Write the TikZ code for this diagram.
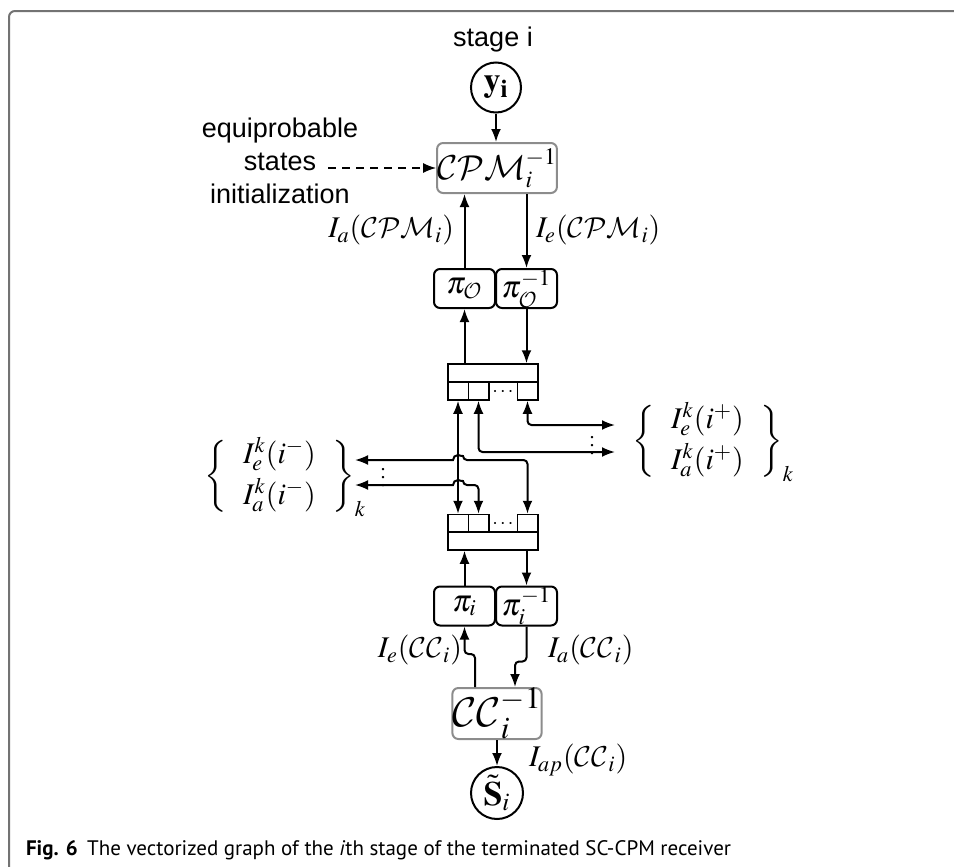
\documentclass[tikz,border=0pt]{standalone}
\usepackage{mathptmx}
\DeclareMathAlphabet{\mathcal}{OMS}{cmsy}{m}{n}
\usepackage{fontspec}
\setmainfont{Liberation Serif}
\newfontfamily\lsans{Liberation Sans}
\newfontfamily\capfont{PT Sans}
\usetikzlibrary{arrows.meta,calc}
\begin{document}
\begin{tikzpicture}[x=0.5pt,y=-0.5pt,line width=1pt,
  arr/.style={-{Latex[length=6.5pt,width=5pt]}},
  darr/.style={{Latex[length=6.5pt,width=5pt]}-{Latex[length=6.5pt,width=5pt]}},
  rc/.style={rounded corners=2pt},
  pibox/.style={draw,rounded corners=3pt,minimum width=30.5pt,minimum height=19.5pt,inner sep=0pt,font=\fontsize{15.5}{18}\selectfont},
  graybox/.style={draw=black!45,rounded corners=3pt,inner sep=0pt},
  cell/.style={draw,line width=0.75pt,minimum width=10.25pt,minimum height=9pt,inner sep=0pt},
  bar/.style={draw,line width=0.75pt,minimum width=45pt,minimum height=9pt,inner sep=0pt},
  circ/.style={draw,circle,inner sep=0pt,font=\fontsize{17}{20}\selectfont},
  lbl/.style={inner sep=0pt,font=\fontsize{15}{18}\selectfont},
  stxt/.style={inner sep=0pt,font=\lsans\fontsize{13.5}{16.5}\selectfont},
  dotsty/.style={inner sep=0pt,font=\fontsize{10}{12}\selectfont}
]
\useasboundingbox (0,0) rectangle (954,867);
% frame
\draw[black!55,line width=1pt,rounded corners=3pt] (9,867) -- (9,11) -- (954,11);

% texts
\node[stxt] (stage) at (493,40) {stage i};
\node[stxt,align=center] (init) at (280,161) {equiprobable\\states\\initialization};
\coordinate (dst) at (328,168);

% nodes
\node[circ,minimum size=25pt] (y) at (496,87.5) {$\mathbf{y}_{\mathbf{i}}$};
\node[graybox,minimum width=55pt,minimum height=25pt,font=\fontsize{16}{19}\selectfont] (cpm) at (497,168) {$\mathcal{CPM}_i^{-1}$};
\node[pibox] (pio) at (464.5,288.5) {$\pi_{\mathcal{O}}$};
\node[pibox] (pioi) at (526.5,288.5) {$\pi_{\mathcal{O}}^{-1}$};

% upper mux
\node[bar] (ubar) at (493,373) {};
\node[cell] (u1) at (458,391) {};
\node[cell] (u2) at (478.5,391) {};
\node[cell] (u4) at (527.5,391) {};
\node[dotsty] (udots) at (503,392) {$\cdots$};

% lower mux
\node[cell] (l1) at (458,523.5) {};
\node[cell] (l2) at (478.5,523.5) {};
\node[cell] (l4) at (527.5,523.5) {};
\node[bar] (lbar) at (493,541) {};
\node[dotsty] (ldots) at (503,524.5) {$\cdots$};

\node[pibox] (pii) at (464.5,606) {$\pi_i$};
\node[pibox] (piii) at (526.5,606) {$\pi_i^{-1}$};
\node[graybox,minimum width=40pt,minimum height=25.5pt,font=\fontsize{21}{25}\selectfont] (cc) at (497,713.5) {$\mathcal{CC}_i^{-1}$};
\node[circ,minimum size=26pt] (s) at (497,793) {$\tilde{\mathbf{S}}_i$};

% labels
\node[lbl,anchor=east] (la) at (455,230) {$I_a(\mathcal{CPM}_i)$};
\node[lbl,anchor=west] (le) at (535,230) {$I_e(\mathcal{CPM}_i)$};
\node[lbl,anchor=east] (lecc) at (463,650) {$I_e(\mathcal{CC}_i)$};
\node[lbl,anchor=west] (lacc) at (547,650) {$I_a(\mathcal{CC}_i)$};
\node[lbl,anchor=west] (lap) at (528,760) {$I_{ap}(\mathcal{CC}_i)$};
\node[lbl,anchor=west] (lg) at (203,477) {$\left\{\;\begin{array}{c} I_e^k(i^-)\\[2pt] I_a^k(i^-)\end{array}\;\right\}_k$};
\node[lbl,anchor=west] (rg) at (631,442) {$\left\{\;\begin{array}{c} I_e^k(i^+)\\[2pt] I_a^k(i^+)\end{array}\;\right\}_k$};
\node[dotsty] (rdots) at (592,440) {$\vdots$};
\node[dotsty] (ldots2) at (383,472) {$\vdots$};

% connectors
\draw[arr] (y) -- (y |- cpm.north);
\draw[arr,line width=0.75pt,dash pattern=on 4pt off 3pt] (dst) -- (cpm.west);
\draw[arr] (pio.north) -- (pio.north |- cpm.south);
\draw[arr] (pioi.north |- cpm.south) -- (pioi.north);
\draw[arr] (pio.south |- ubar.north) -- (pio.south);
\draw[arr] (pioi.south) -- (pioi.south |- ubar.north);

\coordinate (r1) at (615,425);
\coordinate (r2) at (615,452);
\coordinate (lf1) at (355,460);
\coordinate (lf2) at (355,485);
\draw[darr] (u1.south) -- (u1.south |- l1.north);
\draw[darr,rc] (u4.south) |- (r1);
\draw[darr,rc] (u2.south) |- (r2);
\draw[darr] (l4.north) [rounded corners=2pt] -- (l4.north |- lf1) -- (463,460) [sharp corners] arc[start angle=0,end angle=-180,radius=5] -- (lf1);
\draw[darr] (l2.north) [rounded corners=2pt] -- (l2.north |- lf2) -- (463,485) [sharp corners] arc[start angle=0,end angle=-180,radius=5] -- (lf2);

\draw[arr] (pii.north) -- (pii.north |- lbar.south);
\draw[arr] (piii.north |- lbar.south) -- (piii.north);
\draw[arr,rc] ($(cc.north)+(-22,0)$) -- ++(0,-33) -| (pii.south);
\draw[arr,rc] (piii.south) -- ++(0,35) -| ($(cc.north)+(18,0)$);
\draw[arr] (cc.south) -- (s);

% caption
\node[anchor=base west,inner sep=0pt,font=\capfont\fontsize{10.5}{12}\selectfont] (cap) at (25,855) {\textbf{Fig. 6}\hspace{0.45em}The vectorized graph of the \textit{i}th stage of the terminated SC-CPM receiver};
\end{tikzpicture}
\end{document}
